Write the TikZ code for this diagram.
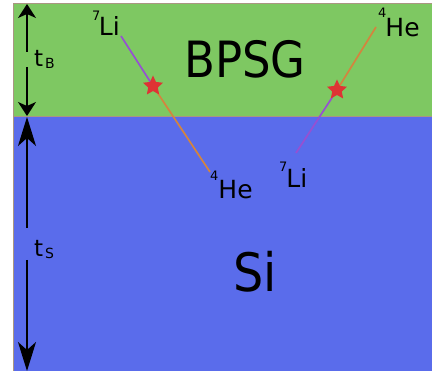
\documentclass[tikz,border=0pt]{standalone}
\usepackage{fontspec}
\setmainfont{DejaVu Sans}
\newfontfamily\condfont{DejaVu Sans Condensed}
\usetikzlibrary{shapes.geometric,arrows.meta}
\definecolor{bpsgc}{RGB}{126,200,98}
\definecolor{sic}{RGB}{90,108,235}
\definecolor{edgec}{RGB}{170,150,130}
\definecolor{lic}{RGB}{150,80,210}
\definecolor{hec}{RGB}{212,132,62}
\definecolor{starc}{RGB}{222,52,52}
\begin{document}
\begin{tikzpicture}[x=1pt,y=-1pt,
  lbl/.style={inner sep=0pt, font=\fontsize{25}{25}\selectfont},
  big/.style={inner sep=0pt, anchor=base},
  dimline/.style={line width=1.8pt, black},
  tipsmall/.style={-{Stealth[length=14pt,width=18pt,inset=4pt]}},
  tiplarge/.style={-{Stealth[length=29pt,width=18pt,inset=8pt]}},
  track/.style={line width=1.7pt},
  starnode/.style={star, star points=5, star point ratio=2.1, minimum size=21pt, inner sep=0pt, fill=starc, draw=none}]
\useasboundingbox (0,0) rectangle (432,371);
% layers
\fill[bpsgc] (13,3) rectangle (432,116);
\fill[sic] (13,116) rectangle (432,371);
\draw[edgec, line width=0.6pt] (432,3) -- (13,3) -- (13,371);
\draw[edgec, line width=0.8pt] (13,116) -- (432,116);
% layer names
\node[big, font=\condfont\fontsize{50}{50}\selectfont] (bpsg) at (245,78) {BPSG};
\node[big, font=\condfont\fontsize{53}{53}\selectfont] (si) at (255,292) {Si};
% thickness labels
\node[lbl, anchor=base west, font=\fontsize{23}{23}\selectfont] (tB) at (34,67) {t\kern2pt\raisebox{-2pt}{\fontsize{14}{14}\selectfont B}};
\node[lbl, anchor=base west, font=\fontsize{23}{23}\selectfont] (tS) at (34,257) {t\kern2pt\raisebox{-2pt}{\fontsize{14}{14}\selectfont S}};
% dimension arrows
\coordinate (bTop) at (27,4);
\coordinate (bGapA) at (27,52);
\coordinate (bGapB) at (27,67);
\coordinate (bBot) at (27,116);
\coordinate (sTop) at (27,117);
\coordinate (sGapA) at (27,228);
\coordinate (sGapB) at (27,260);
\coordinate (sBot) at (27,371);
\draw[dimline, tipsmall] (bGapA) -- (bTop);
\draw[dimline, tipsmall] (bGapB) -- (bBot);
\draw[dimline, tiplarge] (sGapA) -- (sTop);
\draw[dimline, tiplarge] (sGapB) -- (sBot);
% particle labels
\node[lbl, anchor=base west] (li1) at (92,36) {\raisebox{15pt}{\fontsize{13}{13}\selectfont 7}\kern-1.5pt Li};
\node[lbl, anchor=base west] (he1) at (210,199) {\raisebox{18pt}{\fontsize{13}{13}\selectfont 4}He};
\node[lbl, anchor=base west] (he2) at (378,37) {\raisebox{19pt}{\fontsize{13}{13}\selectfont 4}\kern-1pt He};
\node[lbl, anchor=base west] (li2) at (279,188) {\raisebox{16pt}{\fontsize{13}{13}\selectfont 7}\kern-1pt Li};
% tracks
\coordinate (s1) at (153,86);
\coordinate (s2) at (337,90);
\coordinate (li1e) at (121,36);
\coordinate (he1e) at (210,172);
\coordinate (he2e) at (376,27);
\coordinate (li2e) at (296,153);
\draw[track, lic] (li1e) -- (s1);
\draw[track, hec] (s1) -- (he1e);
\draw[track, hec] (s2) -- (he2e);
\draw[track, lic] (s2) -- (li2e);
\node[starnode] (star1) at (s1) {};
\node[starnode] (star2) at (s2) {};
\end{tikzpicture}
\end{document}
